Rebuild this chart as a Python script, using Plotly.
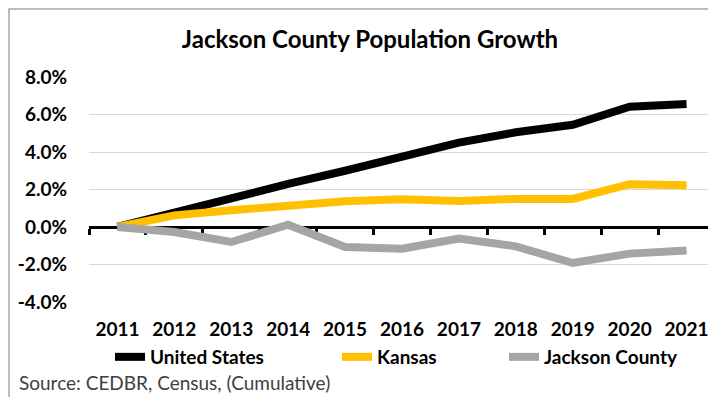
import plotly.graph_objects as go

# Cumulative population growth (%)
years = [2011, 2012, 2013, 2014, 2015, 2016, 2017, 2018, 2019, 2020, 2021]
us = [0.0, 0.78, 1.45, 2.3, 3.0, 3.8, 4.5, 5.05, 5.45, 6.42, 6.56]
kansas = [0.0, 0.62, 0.89, 1.12, 1.37, 1.48, 1.39, 1.5, 1.5, 2.28, 2.23]
jackson = [0.0, -0.27, -0.8, 0.12, -1.07, -1.16, -0.62, -1.03, -1.92, -1.42, -1.25]

y_ticks = [-4, -2, 0, 2, 4, 6, 8]
y_labels = ["-4.0%", "-2.0%", "0.0%", "2.0%", "4.0%", "6.0%", "8.0%"]

FONT = "Lato"
OFF = 8  # page body margin; figure sits 8px in from the window corner
W, H = 716 - OFF, 397 - OFF
L, R, T, B = 89 - OFF, 1, 77 - OFF, 95
pw, ph = W - L - R, H - T - B


# helpers: reference-image pixels -> paper coords
def px_x(p):
    return (p - OFF - L) / pw


def px_y(p):
    return (H - B - (p - OFF)) / ph


fig = go.Figure()
fig.add_trace(go.Scatter(x=years, y=us, mode="lines", name="United States",
                         line=dict(color="#000000", width=8), legend="legend"))
fig.add_trace(go.Scatter(x=years, y=kansas, mode="lines", name="Kansas",
                         line=dict(color="#FFC000", width=8), legend="legend2"))
# drawn on the overlaid axis that carries the zero line
fig.add_trace(go.Scatter(x=years, y=jackson, mode="lines", name="Jackson County",
                         line=dict(color="#A5A5A5", width=8), legend="legend3",
                         xaxis="x2"))

xr = [years[0] - 0.5, years[-1] + 0.5]
bold = dict(family=FONT, size=19, weight="bold", color="black")

fig.update_layout(
    width=W, height=H,
    margin=dict(l=L, r=R, t=T, b=B),
    paper_bgcolor="white", plot_bgcolor="white",
    showlegend=True,
    title=dict(text="Jackson County Population Growth",
               font=dict(family=FONT, size=24, weight="bold", color="black"),
               x=(370 - OFF) / W, xref="container", xanchor="center",
               y=1 - (40 - OFF) / H, yref="container", yanchor="middle"),
    xaxis=dict(range=xr, tickmode="array", tickvals=years,
               showgrid=False, showline=False, zeroline=False, ticks="",
               ticklabelstandoff=14, tickfont=bold),
    xaxis2=dict(overlaying="x", anchor="free", position=1 / 3, matches="x",
                range=xr, tickmode="array",
                tickvals=[y - 0.5 for y in years] + [years[-1] + 0.5],
                showticklabels=False, showgrid=False, zeroline=False,
                showline=True, linecolor="black", linewidth=2.5,
                ticks="outside", ticklen=6, tickwidth=2.5, tickcolor="black",
                layer="below traces"),
    yaxis=dict(range=[-4, 8], tickmode="array", tickvals=y_ticks, ticktext=y_labels,
               showgrid=True, gridcolor="#D9D9D9", gridwidth=1,
               zeroline=False, showline=False, ticks="",
               ticklabelstandoff=21, tickfont=bold),
    legend=dict(orientation="h", x=px_x(110), y=px_y(357), xanchor="left",
                yanchor="middle", font=bold, bgcolor="rgba(0,0,0,0)"),
    legend2=dict(orientation="h", x=px_x(337), y=px_y(357), xanchor="left",
                 yanchor="middle", font=bold, bgcolor="rgba(0,0,0,0)"),
    legend3=dict(orientation="h", x=px_x(504), y=px_y(357), xanchor="left",
                 yanchor="middle", font=bold, bgcolor="rgba(0,0,0,0)"),
    annotations=[dict(text="Source: CEDBR, Census, (Cumulative)", showarrow=False,
                      xref="paper", yref="paper", x=px_x(17), y=px_y(382),
                      xanchor="left", yanchor="middle",
                      font=dict(family=FONT, size=19, color="#404040"))],
    shapes=[dict(type="rect", xref="paper", yref="paper",
                 x0=-L / pw + 1 / pw, x1=px_x(760), y0=px_y(440), y1=(H - B - 1) / ph,
                 line=dict(color="#A6A6A6", width=1.5), layer="below")],
)

fig.write_html("out.html")
